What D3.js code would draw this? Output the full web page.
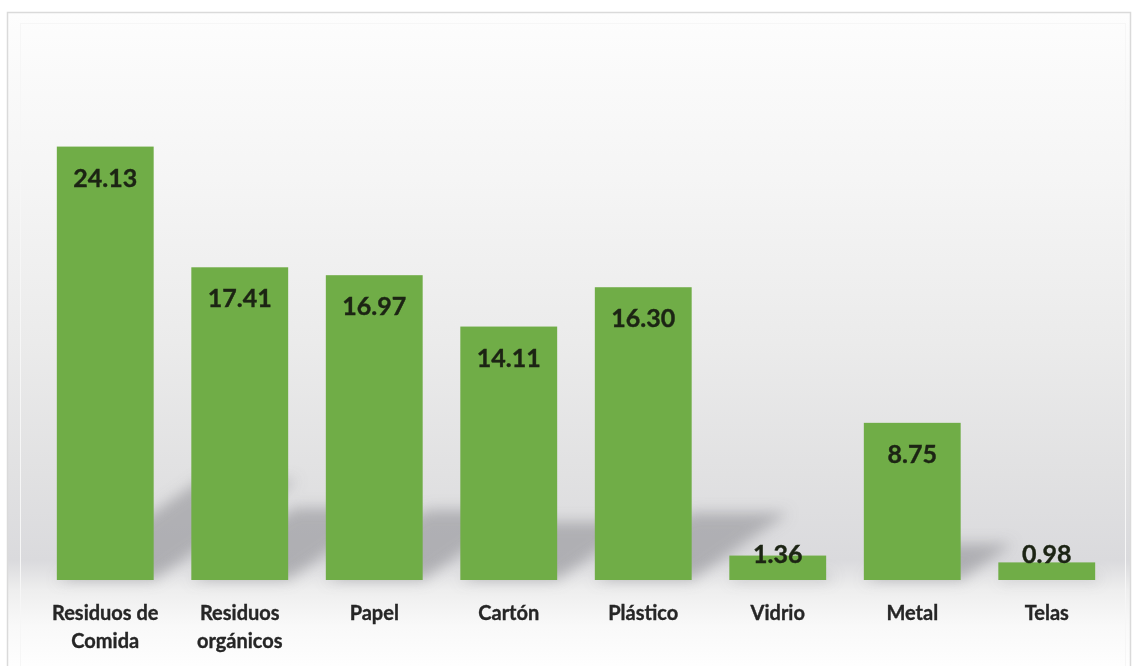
<!DOCTYPE html>
<html>
<head>
<meta charset="utf-8">
<script src="https://cdn.jsdelivr.net/npm/d3@7"></script>
<style>
  body { margin: 0; background: #ffffff; }
  svg { display: block; }
  .cat_label { font-family: Lato, "Open Sans", sans-serif; font-weight: bold; font-size: 20px; fill: #262626; stroke: #262626; stroke-width: 0.35px; }
  .val_label { font-family: Lato, "Open Sans", sans-serif; font-weight: bold; font-size: 25px; fill: #1c2414; stroke: #1c2414; stroke-width: 0.4px; }
</style>
</head>
<body>
<svg id="chart_svg"></svg>
<script>
const width = 1133;
const height = 666;
const margin = {left: 38, right: 19, top: 113, bottom: 86};
const baseline = height - margin.bottom;

// chart data
const categories = ["Residuos de\nComida", "Residuos\norgánicos", "Papel", "Cartón", "Plástico", "Vidrio", "Metal", "Telas"];
const values = [24.13, 17.41, 16.97, 14.11, 16.30, 1.36, 8.75, 0.98];
const value_labels = ["24.13", "17.41", "16.97", "14.11", "16.30", "1.36", "8.75", "0.98"];

const data = categories.map((c, i) => ({cat: c, value: values[i], label: value_labels[i]}));

const svg = d3.select('#chart_svg')
    .attr('width', width)
    .attr('height', height);

const defs = svg.append('defs');

// background gradient, white on top, grey near the bars' foot, white again below
const grad = defs.append('linearGradient')
    .attr('id', 'bg_grad')
    .attr('x1', 0).attr('y1', 0).attr('x2', 0).attr('y2', 1);
[[0, '#fdfdfd'], [0.25, '#f5f5f5'], [0.5, '#ebebeb'], [0.7, '#e1e1e2'], [0.83, '#dadadd'],
 [0.875, '#eeeeee'], [0.93, '#f9f9f9'], [1, '#ffffff']].forEach(s => {
    grad.append('stop').attr('offset', s[0]).attr('stop-color', s[1]);
});

defs.append('filter')
    .attr('id', 'blur')
    .attr('x', '-50%').attr('y', '-50%').attr('width', '200%').attr('height', '200%')
    .append('feGaussianBlur')
    .attr('stdDeviation', 7);

// chart area frame
svg.append('rect')
    .attr('x', 7.5).attr('y', 12.5)
    .attr('width', 1123).attr('height', 660)
    .attr('fill', 'url(#bg_grad)')
    .attr('stroke', '#dadada')
    .attr('stroke-width', 1.5);

svg.append('rect')
    .attr('x', 20.5).attr('y', 23.5)
    .attr('width', 1105).attr('height', 650)
    .attr('fill', 'none')
    .attr('stroke', '#f6f6f6')
    .attr('stroke-width', 1);

const x = d3.scaleBand()
    .domain(categories)
    .range([margin.left, width - margin.right])
    .paddingInner(0.28)
    .paddingOuter(0.14);

const y = d3.scaleLinear()
    .domain([0, 26])
    .range([baseline, margin.top]);

// perspective shadows behind the bars
const shadow_group = svg.append('g')
    .attr('class', 'shadow_group')
    .attr('filter', 'url(#blur)');

shadow_group.selectAll('.bar_shadow')
    .data(data)
    .enter().append('path')
        .attr('class', 'bar_shadow')
        .attr('d', d => {
            var h = baseline - y(d.value);
            var x0 = x(d.cat), x1 = x(d.cat) + x.bandwidth();
            var dx = h * 0.33, dy = h * 0.23;
            return `M${x0},${baseline} L${x1},${baseline} L${x1 + dx},${baseline - dy} L${x0 + dx},${baseline - dy} Z`;
        })
        .attr('fill', '#8a8a8f')
        .attr('opacity', 0.55);

const bar_group = svg.append('g').attr('class', 'bar_group');

bar_group.selectAll('.bar')
    .data(data)
    .enter().append('rect')
        .attr('class', 'bar')
        .attr('x', d => x(d.cat))
        .attr('y', d => y(d.value))
        .attr('width', x.bandwidth())
        .attr('height', d => baseline - y(d.value))
        .attr('fill', '#70ad47');

// value labels, inside the top of the bar, pushed up for short bars
bar_group.selectAll('.val_label')
    .data(data)
    .enter().append('text')
        .attr('class', 'val_label')
        .attr('x', d => x(d.cat) + x.bandwidth() / 2)
        .attr('y', d => Math.min(y(d.value) + 30, baseline - 27))
        .attr('text-anchor', 'middle')
        .attr('dominant-baseline', 'central')
        .text(d => d.label);

// category axis
const x_axis = svg.append('g')
    .attr('class', 'x_axis')
    .attr('transform', `translate(0, ${baseline})`)
    .call(d3.axisBottom(x).tickSize(0).tickFormat(''));

x_axis.select('.domain').remove();

x_axis.selectAll('.tick').each(function(d) {
    var lines = d.split('\n');
    var t = d3.select(this).append('text')
        .attr('class', 'cat_label')
        .attr('text-anchor', 'middle')
        .attr('y', 40);
    lines.forEach((l, i) => {
        t.append('tspan')
            .attr('x', 0)
            .attr('dy', i === 0 ? 0 : 28)
            .text(l);
    });
});
</script>
</body>
</html>
